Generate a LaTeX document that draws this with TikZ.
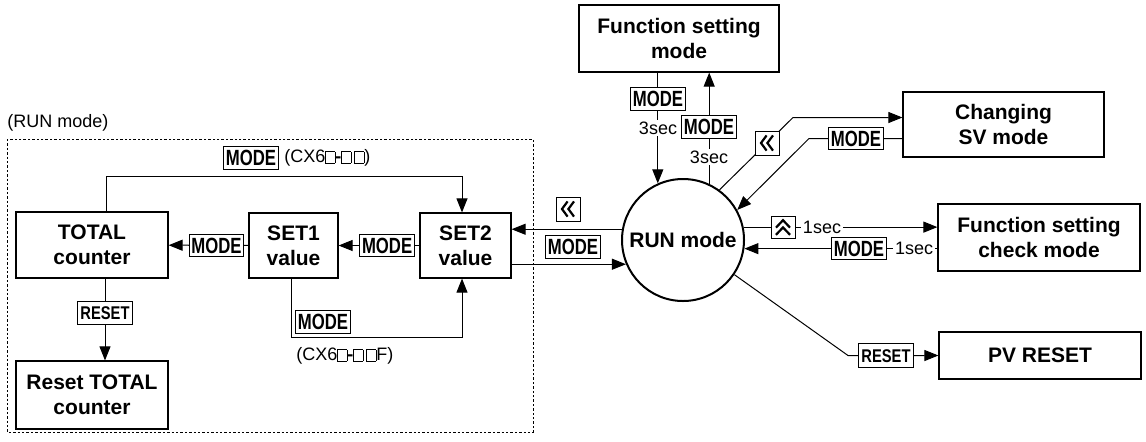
\documentclass[tikz,border=0pt]{standalone}
\usepackage{fontspec}
\setmainfont{Liberation Sans}
\usepackage{graphicx}
\usetikzlibrary{arrows.meta,positioning,calc}

\newcommand{\narrow}[2][0.76]{\scalebox{#1}[1]{#2}}
\newcommand{\sq}{{\setlength{\fboxsep}{0pt}\setlength{\fboxrule}{0.4pt}\fbox{\rule{0pt}{5.2pt}\hspace{4.2pt}}}}

\tikzset{
  box/.style={draw,line width=0.6pt,align=center,inner sep=0pt,
              font=\fontsize{10.5}{12.5}\selectfont\bfseries,
              minimum width=100pt,minimum height=33pt},
  modekey/.style={draw,line width=0.5pt,fill=white,inner xsep=1.2pt,inner ysep=1.6pt,
                  text height=7.9pt,text depth=0pt,font=\fontsize{11}{11}\selectfont\bfseries},
  resetkey/.style={draw,line width=0.5pt,fill=white,inner xsep=1.6pt,inner ysep=2.6pt,
                   text height=6.6pt,text depth=0pt,font=\fontsize{9.2}{9.2}\selectfont\bfseries},
  chevkey/.style={draw,line width=0.5pt,fill=white,minimum width=12pt,minimum height=12pt,inner sep=0pt},
  leftkey/.style={chevkey,path picture={
      \draw[line width=1.1pt,shift={(path picture bounding box.center)}]
        (-0.2pt,3.8pt) -- (-3pt,0pt) -- (-0.2pt,-3.8pt)
        (3pt,3.8pt) -- (0.2pt,0pt) -- (3pt,-3.8pt);}},
  upkey/.style={chevkey,minimum height=11pt,path picture={
      \draw[line width=1.1pt,shift={(path picture bounding box.center)}]
        (-3.5pt,-0.3pt) -- (0pt,3.4pt) -- (3.5pt,-0.3pt)
        (-3.5pt,-3.9pt) -- (0pt,-0.2pt) -- (3.5pt,-3.9pt);}},
  note/.style={font=\fontsize{9}{10}\selectfont,inner sep=1pt},
  arr/.style={line width=0.5pt,-{Triangle[length=7pt,width=5.5pt]}}
}

\begin{document}
\begin{tikzpicture}[x=0.5pt,y=-0.5pt]
  \useasboundingbox (0,0) rectangle (1146,441);

  % RUN mode group
  \draw[line width=0.5pt,dash pattern=on 1.2pt off 1pt] (7,139) rectangle (533,432);
  \node[note,anchor=west] (grp) at (5,123) {(RUN mode)};
  \node[box,minimum width=76pt] (total) at (92,245) {TOTAL\\counter};
  \node[box,minimum width=76pt,minimum height=34pt] (resettotal) at (92,395) {Reset TOTAL\\counter};
  \node[box,minimum width=44.5pt,minimum height=32.5pt] (set1) at (293.5,245.5) {SET1\\value};
  \node[box,minimum width=45.5pt,minimum height=32.5pt] (set2) at (465.5,245.5) {SET2\\value};

  % other modes
  \node[circle,draw,line width=1pt,minimum size=61pt,inner sep=0pt,
        font=\fontsize{10.5}{12.5}\selectfont\bfseries] (run) at (683,240) {RUN mode};
  \node[box,minimum height=33.5pt] (fsm) at (679,38.5) {Function setting\\mode};
  \node[box,minimum width=100.5pt,minimum height=32.5pt] (csv) at (1003.5,124.5) {Changing\\SV mode};
  \node[box,minimum width=101pt,minimum height=33.5pt] (fscm) at (1039,237.5) {Function setting\\check mode};
  \node[box,minimum width=101pt,minimum height=23.5pt] (pvreset) at (1040,355.5) {PV RESET};

  % inside the group
  \draw[arr] (set2) -- node[modekey,pos=0.4] (kset2) {\narrow{MODE}} (set1);
  \draw[arr] (set1) -- node[modekey,pos=0.4] (kset1) {\narrow{MODE}} (total);
  \draw[arr] ([xshift=6.5pt]total.south) -- node[resetkey,pos=0.42] (kreset) {\narrow[0.8]{RESET}}
             ([xshift=6.5pt]resettotal.north);
  \coordinate (tl) at (106,176);
  \coordinate (tr) at (462,176);
  \draw[arr] (total.north -| tl) -- (tl) -- (tr) -- (set2.north -| tr);
  \coordinate (bl) at (291,337);
  \coordinate (br) at (462,337);
  \draw[arr] (set1.south -| bl) -- (bl) -- (br) -- (set2.south -| br);

  % around RUN mode
  \draw[arr] (run.170) -- (run.170 -| set2.east);
  \draw[arr] (run.203 -| set2.east) -- (run.203);
  \draw[arr] (run.114 |- fsm.south) -- (run.114);
  \draw[arr] (run.65) -- (run.65 |- fsm.south);
  \coordinate (sv1) at (793,117.5);
  \draw[arr] (run.54) -- (sv1) -- (sv1 -| csv.west);
  \coordinate (sv2) at (809,138.5);
  \draw[arr] (sv2 -| csv.west) -- (sv2) -- (run.29);
  \draw[arr] (run.12) -- (run.12 -| fscm.west);
  \draw[arr] (run.-8 -| fscm.west) -- (run.-8);
  \coordinate (pv) at (848,355.5);
  \draw[arr] (run.-34) -- (pv) -- (pvreset.west);

  % keys and notes
  \node[modekey] (ktop) at (251,158) {\narrow{MODE}};
  \node[note,anchor=west] (cxtop) at (282,158) {(CX6\sq\textbf{-}\sq\,\sq)};
  \node[modekey] (kbot) at (323,322) {\narrow{MODE}};
  \node[note,anchor=west] (cxbot) at (294,356) {(CX6\sq\textbf{-}\sq\,\sq F)};
  \node[leftkey] (kback) at (568,209) {};
  \node[modekey] (krun) at (573,247) {\narrow{MODE}};
  \node[modekey] (kfsmdn) at (658,99) {\narrow{MODE}};
  \node[note,fill=white] (tfsmdn) at (658,128) {3sec};
  \node[modekey] (kfsmup) at (709,127) {\narrow{MODE}};
  \node[note,fill=white] (tfsmup) at (709,157) {3sec};
  \node[leftkey] (kcsv) at (767,143) {};
  \node[modekey] (kcsvbk) at (856,138.5) {\narrow{MODE}};
  \node[upkey] (kchk) at (783,227) {};
  \node[note,fill=white] (tchk) at (822,227) {1sec};
  \node[modekey] (kchkbk) at (859,248.5) {\narrow{MODE}};
  \node[note,fill=white] (tchkbk) at (914,248.5) {1sec};
  \node[resetkey] (kpv) at (886,355.5) {\narrow[0.8]{RESET}};
\end{tikzpicture}
\end{document}
